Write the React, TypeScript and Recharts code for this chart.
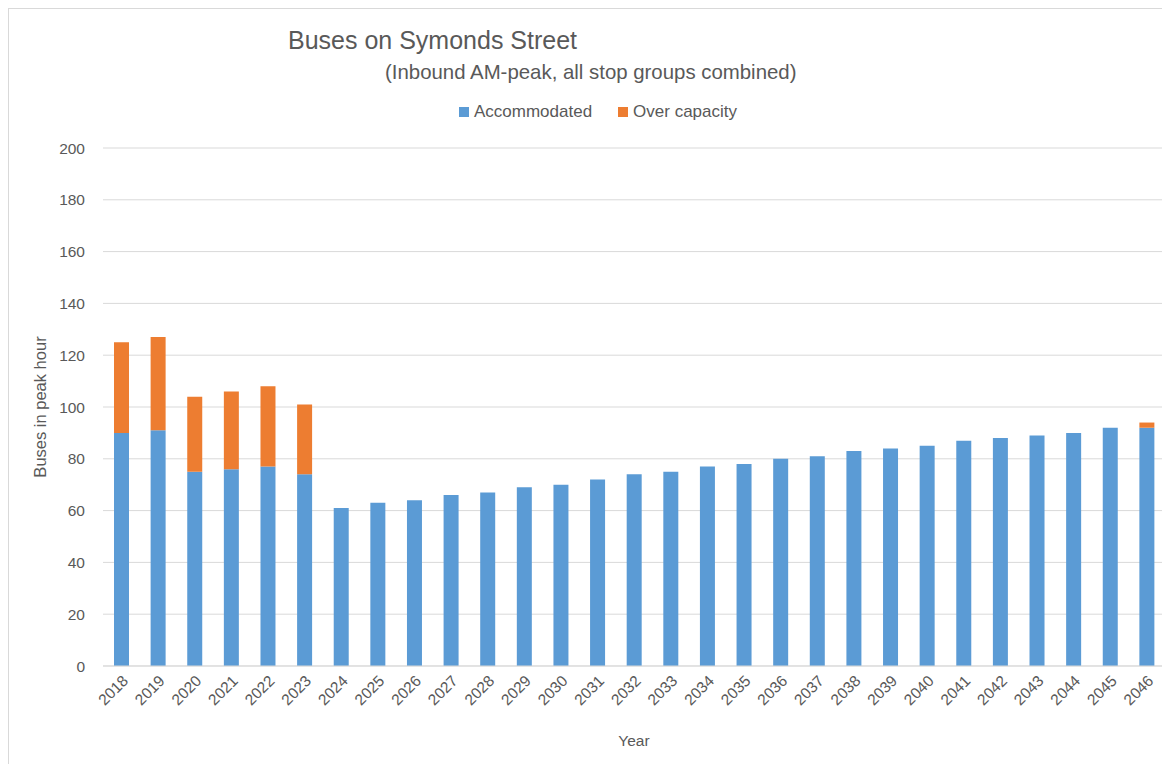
import React from 'react';
import { BarChart, Bar, XAxis, YAxis, CartesianGrid } from 'recharts';

const years = [
  '2018', '2019', '2020', '2021', '2022', '2023', '2024', '2025', '2026', '2027',
  '2028', '2029', '2030', '2031', '2032', '2033', '2034', '2035', '2036', '2037',
  '2038', '2039', '2040', '2041', '2042', '2043', '2044', '2045', '2046',
];

// buses that fit within stop capacity
const accommodated = [
  90, 91, 75, 76, 77, 74, 61, 63, 64, 66,
  67, 69, 70, 72, 74, 75, 77, 78, 80, 81,
  83, 84, 85, 87, 88, 89, 90, 92, 92,
];

// buses beyond capacity
const overCapacity = [
  35, 36, 29, 30, 31, 27, 0, 0, 0, 0,
  0, 0, 0, 0, 0, 0, 0, 0, 0, 0,
  0, 0, 0, 0, 0, 0, 0, 0, 2,
];

const yTicks = [0, 20, 40, 60, 80, 100, 120, 140, 160, 180, 200];

const BLUE = '#5B9BD5';
const ORANGE = '#ED7D31';
const TEXT = '#595959';
const FONT = '"Liberation Sans", Arial, sans-serif';

const chartData = years.map((year, i) => ({
  year,
  Accommodated: accommodated[i],
  'Over capacity': overCapacity[i],
}));

const legendItems = [
  { name: 'Accommodated', color: BLUE },
  { name: 'Over capacity', color: ORANGE },
];

const App: React.FC = () => {
  return (
    <div
      style={{
        position: 'relative',
        width: 1165,
        height: 760,
        border: '1px solid #d9d9d9',
        background: '#fff',
        fontFamily: FONT,
      }}
    >
      <div style={{ position: 'absolute', left: 279, top: 19, fontSize: 25, lineHeight: '25px', color: TEXT }}>
        Buses on Symonds Street
      </div>
      <div style={{ position: 'absolute', left: 376, top: 53, fontSize: 20.4, lineHeight: '20px', color: TEXT }}>
        (Inbound AM-peak, all stop groups combined)
      </div>
      <div
        style={{
          position: 'absolute',
          left: 0,
          top: 93,
          width: 1178,
          display: 'flex',
          justifyContent: 'center',
          fontSize: 17,
          lineHeight: '20px',
          color: TEXT,
        }}
      >
        {legendItems.map((item) => (
          <span key={item.name} style={{ display: 'inline-flex', alignItems: 'center', margin: '0 13px' }}>
            <span style={{ width: 10, height: 10, background: item.color, marginRight: 5, display: 'inline-block' }} />
            {item.name}
          </span>
        ))}
      </div>
      <BarChart
        width={1160}
        height={755}
        data={chartData}
        margin={{ top: 139, right: 4, left: 0, bottom: 0 }}
        barSize={15}
      >
        <CartesianGrid vertical={false} stroke="#d9d9d9" />
        <XAxis
          dataKey="year"
          height={98}
          interval={0}
          axisLine={{ stroke: '#d9d9d9' }}
          tickLine={false}
          angle={-45}
          textAnchor="end"
          tick={{ fill: TEXT, fontSize: 15.5, fontFamily: FONT }}
          label={{ value: 'Year', position: 'insideBottom', offset: 18, fill: TEXT, fontSize: 15.5, fontFamily: FONT }}
        />
        <YAxis
          width={94}
          domain={[0, 200]}
          ticks={yTicks}
          axisLine={false}
          tickLine={false}
          tickMargin={12}
          tick={{ fill: TEXT, fontSize: 15.5, fontFamily: FONT }}
          label={{
            value: 'Buses in peak hour',
            angle: -90,
            position: 'center',
            dx: -16,
            fill: TEXT,
            fontSize: 16.5,
            fontFamily: FONT,
          }}
        />
        <Bar dataKey="Accommodated" stackId="a" fill={BLUE} isAnimationActive={false} />
        <Bar dataKey="Over capacity" stackId="a" fill={ORANGE} isAnimationActive={false} />
      </BarChart>
    </div>
  );
};

export default App;
